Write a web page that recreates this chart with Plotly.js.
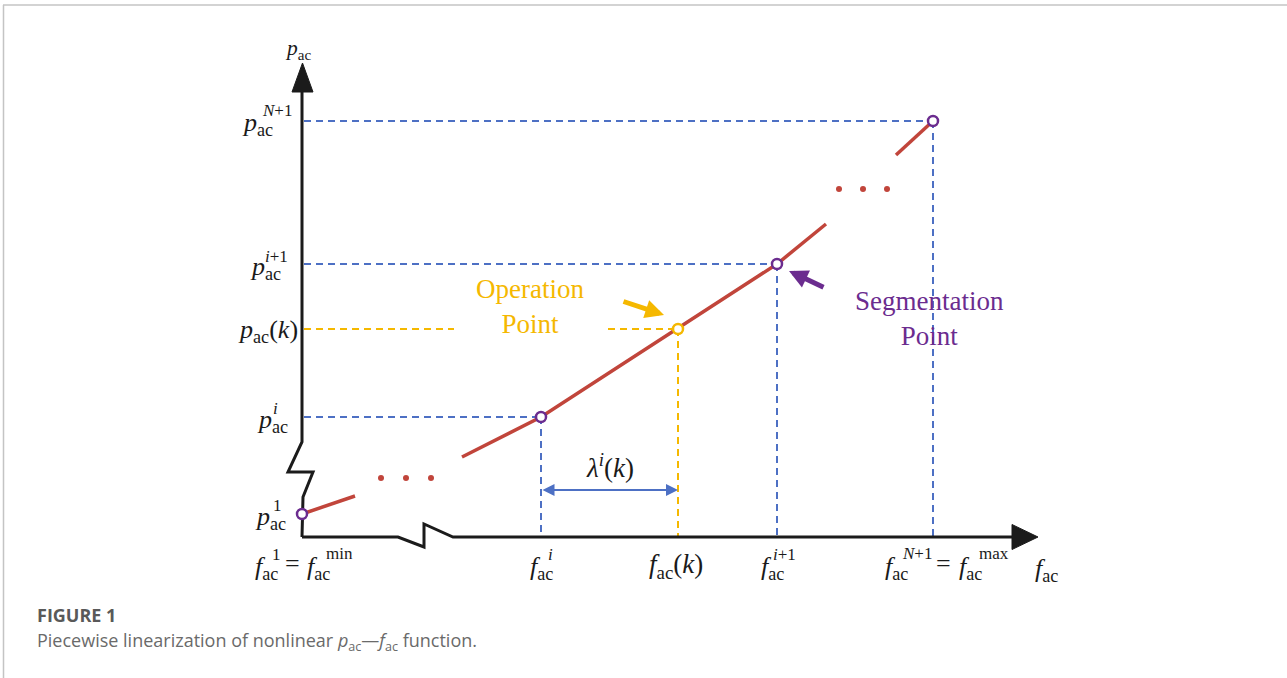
<!DOCTYPE html>
<html>
<head>
<meta charset="utf-8">
<script src="https://cdn.plot.ly/plotly-3.0.1.min.js"></script>
<style>
  html, body { margin: 0; padding: 0; background: #ffffff; }
  #chart { width: 1287px; height: 678px; }
</style>
</head>
<body>
<div id="chart"></div>
<script>
// ---- Data (f in horizontal units, p in vertical units; origin at the axes corner) ----
// Segmentation points f^1, f^i, f^{i+1}, f^{N+1} and their p values
var fSeg = [0, 239, 475, 631];
var pSeg = [23, 120, 273, 416];
// Operation point (f_ac(k), p_ac(k)) on the segment between f^i and f^{i+1}
var fOp = [376];
var pOp = [208];
// Visible pieces of the nonlinear curve
var curveA_f = [0, 53];
var curveA_p = [23, 41];
var curveB_f = [160, 239, 475, 524];
var curveB_p = [80, 120, 273, 313];
var curveC_f = [594, 631];
var curveC_p = [382, 416];
// Ellipsis dots marking omitted segments
var dotsLow_f = [79, 104, 129];
var dotsLow_p = [59, 59, 59];
var dotsHigh_f = [537, 561, 585];
var dotsHigh_p = [348, 348, 348];
// Axis polylines with break marks, and arrow heads
var yAxis_f = [0, 1, 11, -14, 0, 0];
var yAxis_p = [0, 40, 65, 65, 95, 447];
var xAxis_f = [0, 96, 122, 122, 151, 712];
var xAxis_p = [0, 0, -10, 13, 0, 0];
var yHead_f = [-10, 11, 0.5, -10];
var yHead_p = [445, 445, 474, 445];
var xHead_f = [710, 710, 736, 710];
var xHead_p = [12.5, -12.5, 0, 12.5];
// Gap in the operation-point guide line left for its label
var opLabelGap = [152, 306];
// Level of the lambda^i(k) dimension arrow
var lambdaLevel = [47];

// ---- Styles ----
var RED = '#c1453b', BLUE = '#4d70c4', YELLOW = '#f5b800', PURPLE = '#6b2c8f', AXIS = '#1b1b1b';
var MATH = 'Liberation Serif, Times New Roman, serif';
var DASH = '7px,5px';

var traces = [];
function line(xs, ys, color, width, dash) {
  traces.push({x: xs, y: ys, type: 'scatter', mode: 'lines', hoverinfo: 'skip',
    line: {color: color, width: width, dash: dash || 'solid'}});
}

// Blue guide lines from segmentation points i, i+1, N+1 to both axes
for (var k = 1; k < fSeg.length; k++) {
  line([2, fSeg[k]], [pSeg[k], pSeg[k]], BLUE, 2, DASH);
  line([fSeg[k], fSeg[k]], [pSeg[k], 0], BLUE, 2, DASH);
}
// Yellow guide lines from the operation point
line([2, opLabelGap[0]], [pOp[0], pOp[0]], YELLOW, 2, DASH);
line([opLabelGap[1], fOp[0]], [pOp[0], pOp[0]], YELLOW, 2, DASH);
line([fOp[0], fOp[0]], [pOp[0], 0], YELLOW, 2, DASH);

// Axes
line(yAxis_f, yAxis_p, AXIS, 3);
line(xAxis_f, xAxis_p, AXIS, 3);
traces.push({x: yHead_f, y: yHead_p, type: 'scatter', mode: 'lines', fill: 'toself',
  fillcolor: AXIS, line: {color: AXIS, width: 1}, hoverinfo: 'skip'});
traces.push({x: xHead_f, y: xHead_p, type: 'scatter', mode: 'lines', fill: 'toself',
  fillcolor: AXIS, line: {color: AXIS, width: 1}, hoverinfo: 'skip'});

// Piecewise curve
line(curveA_f, curveA_p, RED, 3.5);
line(curveB_f, curveB_p, RED, 3.5);
line(curveC_f, curveC_p, RED, 3.5);
traces.push({x: dotsLow_f.concat(dotsHigh_f), y: dotsLow_p.concat(dotsHigh_p),
  type: 'scatter', mode: 'markers', hoverinfo: 'skip',
  marker: {color: RED, size: 6}});

// Segmentation points and operation point
traces.push({x: fSeg, y: pSeg, type: 'scatter', mode: 'markers', hoverinfo: 'skip',
  marker: {symbol: 'circle', size: 10, color: '#ffffff', line: {color: PURPLE, width: 2.5}}});
traces.push({x: fOp, y: pOp, type: 'scatter', mode: 'markers', hoverinfo: 'skip',
  marker: {symbol: 'circle', size: 10, color: '#ffffff', line: {color: YELLOW, width: 2.5}}});

// ---- Annotations (positions given in page pixels, converted to axis units) ----
function fx(X) { return X - 302; }
function py(Y) { return 537 - Y; }
var ann = [];
function txt(X, Y, html, size, color, xanchor, family) {
  ann.push({x: fx(X), y: py(Y), xref: 'x', yref: 'y', text: html, showarrow: false,
    xanchor: xanchor || 'left', yanchor: 'middle',
    font: {family: family || MATH, size: size, color: color || '#1a1a1a'}});
}
var PAC = '<i>p</i><sub>ac</sub>';
var FAC = '<i>f</i><sub>ac</sub>';
var MS = 26, SS = 17;

// Vertical axis title and labels
txt(283, 49, PAC, 21.5);
txt(240, 124, PAC, MS);  txt(260, 110, '<i>N</i>+1', SS);
txt(248, 268, PAC, MS);  txt(263, 256, '<i>i</i>+1', SS);
txt(236, 331, PAC + '(<i>k</i>)', MS);
txt(255, 421, PAC, MS);  txt(271, 408, '<i>i</i>', SS);
txt(253, 518, PAC, MS);  txt(271, 505, '1', SS);

// Horizontal axis labels and title
txt(253, 568, FAC, MS);  txt(270, 554, '1', SS);
txt(292, 563, '=', MS, null, 'center');
txt(305, 568, FAC, MS);  txt(324, 553, 'min', SS);
txt(528, 568, FAC, MS);  txt(546, 554, '<i>i</i>', SS);
txt(647, 566, FAC + '(<i>k</i>)', 27);
txt(759, 568, FAC, MS);  txt(771, 554, '<i>i</i>+1', SS);
txt(883, 568, FAC, MS);  txt(900, 553, '<i>N</i>+1', SS);
txt(943, 563, '=', MS, null, 'center');
txt(957, 568, FAC, MS);  txt(977, 553, 'max', SS);
txt(1033, 570, FAC, MS);

// Dimension label
txt(610, 466, '<i>λ</i><sup><i>i</i></sup>(<i>k</i>)', 27, null, 'center');

// Callout texts
txt(530, 306, 'Operation<br>Point', 27, YELLOW, 'center');
txt(929, 318, 'Segmentation<br>Point', 27, PURPLE, 'center');

// Callout arrows and the lambda dimension arrow
ann.push({x: fx(664), y: py(315), ax: fx(622), ay: py(301), xref: 'x', yref: 'y', axref: 'x', ayref: 'y',
  text: '', showarrow: true, arrowhead: 2, arrowsize: 0.75, arrowwidth: 5, arrowcolor: YELLOW});
ann.push({x: fx(789), y: py(271), ax: fx(825), ay: py(288), xref: 'x', yref: 'y', axref: 'x', ayref: 'y',
  text: '', showarrow: true, arrowhead: 2, arrowsize: 0.75, arrowwidth: 5, arrowcolor: PURPLE});
ann.push({x: fOp[0], y: lambdaLevel[0], ax: fSeg[1], ay: lambdaLevel[0], xref: 'x', yref: 'y', axref: 'x', ayref: 'y',
  text: '', showarrow: true, arrowside: 'end+start', arrowhead: 2, startarrowhead: 2,
  arrowsize: 1.2, startarrowsize: 1.2, arrowwidth: 2, arrowcolor: BLUE});

// Figure caption
ann.push({x: 35 / 1287, y: 1 - 615 / 678, xref: 'paper', yref: 'paper', xanchor: 'left', yanchor: 'middle',
  showarrow: false, text: '<b>FIGURE 1</b>',
  font: {family: 'Open Sans, sans-serif', size: 18, color: '#595959'}});
ann.push({x: 35 / 1287, y: 1 - 641 / 678, xref: 'paper', yref: 'paper', xanchor: 'left', yanchor: 'middle',
  showarrow: false,
  text: 'Piecewise linearization of nonlinear <i>p</i><sub>ac</sub>\u2014<i>f</i><sub>ac</sub> function.',
  font: {family: 'Open Sans, sans-serif', size: 18, color: '#6a6a6a'}});

var layout = {
  width: 1287, height: 678,
  margin: {l: 0, r: 0, t: 0, b: 0},
  paper_bgcolor: '#ffffff', plot_bgcolor: '#ffffff',
  showlegend: false,
  xaxis: {range: [-302, 985], visible: false, fixedrange: true},
  yaxis: {range: [-141, 537], visible: false, fixedrange: true},
  annotations: ann,
  shapes: [
    // page frame
    {type: 'line', xref: 'paper', yref: 'paper', x0: 3 / 1287, x1: 1, y0: 1 - 5 / 678, y1: 1 - 5 / 678,
      line: {color: '#c4c4c4', width: 1.5}},
    {type: 'line', xref: 'paper', yref: 'paper', x0: 3.5 / 1287, x1: 3.5 / 1287, y0: 1 - 5 / 678, y1: 0,
      line: {color: '#c4c4c4', width: 1.5}}
  ]
};

Plotly.newPlot('chart', traces, layout, {staticPlot: true, displayModeBar: false});
</script>
</body>
</html>
